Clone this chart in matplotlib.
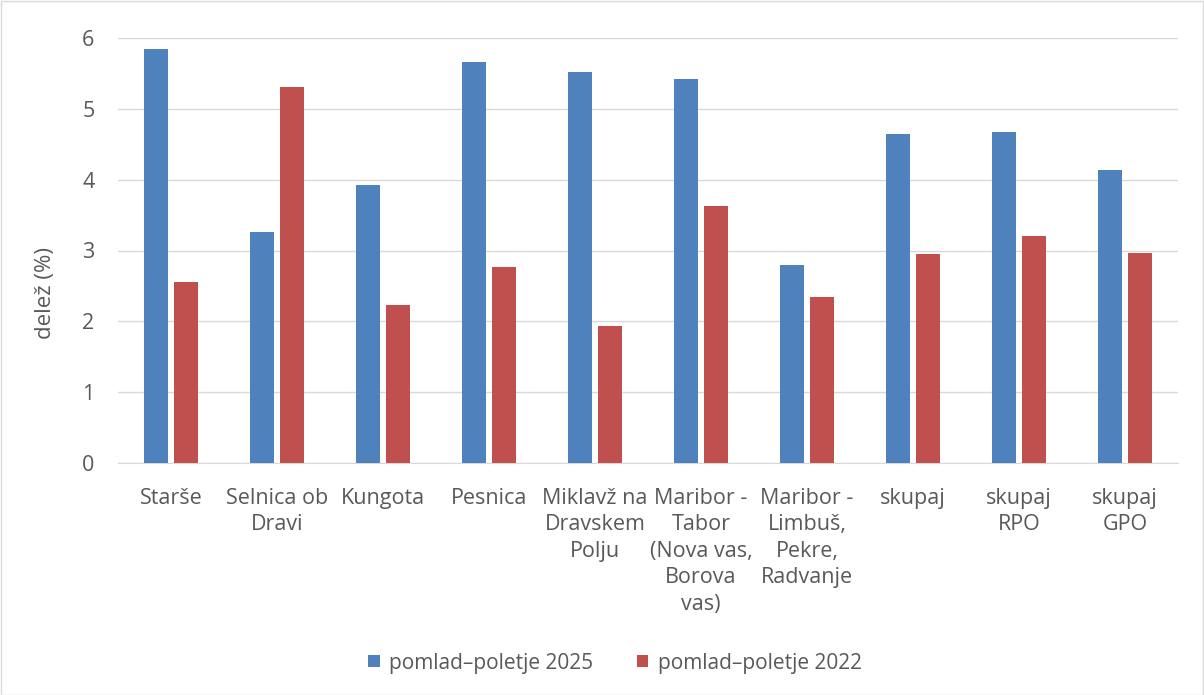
import matplotlib
matplotlib.use("Agg")
import matplotlib.pyplot as plt
import numpy as np

categories = ["Starše", "Selnica ob\nDravi", "Kungota", "Pesnica", "Miklavž na\nDravskem\nPolju",
              "Maribor -\nTabor\n(Nova vas,\nBorova\nvas)", "Maribor -\nLimbuš,\nPekre,\nRadvanje",
              "skupaj", "skupaj\nRPO", "skupaj\nGPO"]
values_2025 = [5.84, 3.26, 3.92, 5.66, 5.52, 5.42, 2.79, 4.64, 4.67, 4.14]
values_2022 = [2.56, 5.31, 2.23, 2.77, 1.93, 3.63, 2.34, 2.95, 3.20, 2.96]
label_2025 = "pomlad–poletje 2025"
label_2022 = "pomlad–poletje 2022"
yticks = [0, 1, 2, 3, 4, 5, 6]

plt.rcParams['font.family'] = ['Open Sans', 'DejaVu Sans']

fig = plt.figure(figsize=(12.04, 6.95), dpi=100)
ax = fig.add_axes([118/1204, 1-463/695, 1060/1204, 425/695])

x = np.arange(len(categories))
w = 0.226
off = 0.146
ax.bar(x - off, values_2025, w, color="#4F81BD", label=label_2025, zorder=3)
ax.bar(x + off, values_2022, w, color="#C0504D", label=label_2022, zorder=3)

ax.set_xlim(-0.5, len(categories) - 0.5)
ax.set_ylim(0, 6)
ax.set_yticks(yticks)
ax.set_yticklabels([str(t) for t in yticks], fontsize=15.5, color="#595959")
ax.yaxis.grid(True, color="#D9D9D9", linewidth=1, zorder=0)
ax.set_xticks(x)
ax.set_xticklabels(categories, fontsize=15.5, color="#595959", linespacing=1.34, va="top")
ax.tick_params(axis="both", length=0)
ax.tick_params(axis="x", pad=18)
ax.tick_params(axis="y", pad=17)
for s in ["top", "right", "left"]:
    ax.spines[s].set_visible(False)
ax.spines["bottom"].set_color("#D9D9D9")
ax.set_ylabel("delež (%)", fontsize=16, color="#595959")
ax.yaxis.set_label_coords((56-118)/1060, (463-293)/425)

fig.legend(loc="center", bbox_to_anchor=(615/1204, 1-663/695), ncol=2, frameon=False,
           fontsize=15, handlelength=0.55, handleheight=0.55, handletextpad=0.45, columnspacing=2.1,
           labelcolor="#595959")

fig.patches.append(plt.Rectangle((0.5/1204, 0.5/695), 1-1.5/1204, 1-1.5/695, transform=fig.transFigure,
                                 fill=False, edgecolor="#D9D9D9", linewidth=1))

fig.savefig("out.png", dpi=100)
